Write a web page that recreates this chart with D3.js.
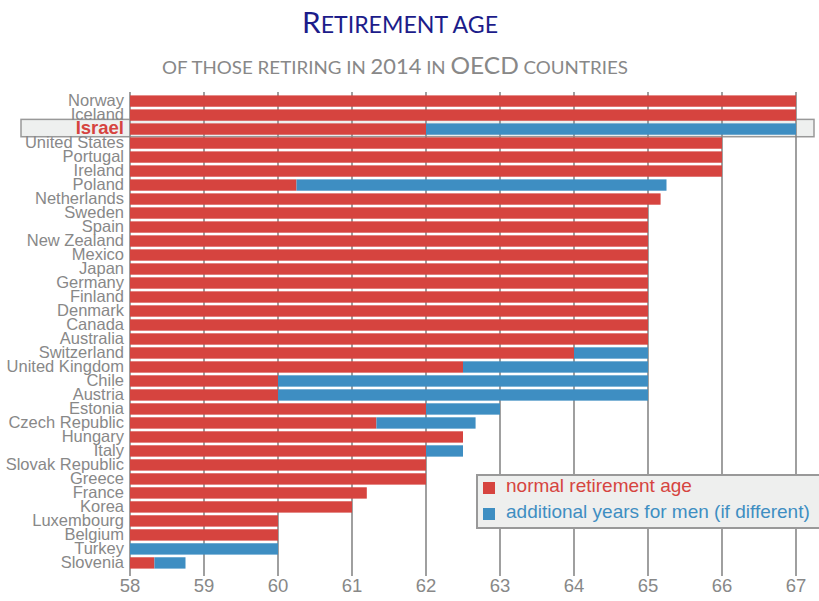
<!DOCTYPE html>
<html>
<head>
<meta charset="utf-8">
<script src="https://cdn.jsdelivr.net/npm/d3@7"></script>
<style>
body { margin: 0; background: #fff; }
svg { display: block; }
</style>
</head>
<body>
<svg id="chart" width="819" height="601"></svg>
<script>
// countries, top to bottom
var countries = ["Norway", "Iceland", "Israel", "United States", "Portugal", "Ireland", "Poland", "Netherlands", "Sweden", "Spain", "New Zealand", "Mexico", "Japan", "Germany", "Finland", "Denmark", "Canada", "Australia", "Switzerland", "United Kingdom", "Chile", "Austria", "Estonia", "Czech Republic", "Hungary", "Italy", "Slovak Republic", "Greece", "France", "Korea", "Luxembourg", "Belgium", "Turkey", "Slovenia"];
// normal retirement age (women where different)
var normalAge = [67, 67, 62, 66, 66, 66, 60.25, 65.17, 65, 65, 65, 65, 65, 65, 65, 65, 65, 65, 64, 62.5, 60, 60, 62, 61.33, 62.5, 62, 62, 62, 61.2, 61, 60, 60, 58, 58.33];
// retirement age for men
var menAge = [67, 67, 67, 66, 66, 66, 65.25, 65.17, 65, 65, 65, 65, 65, 65, 65, 65, 65, 65, 65, 65, 65, 65, 63, 62.67, 62.5, 62.5, 62, 62, 61.2, 61, 60, 60, 60, 58.75];
var ticks = [58, 59, 60, 61, 62, 63, 64, 65, 66, 67];
var highlight = "Israel";
var legendLabels = ["normal retirement age", "additional years for men (if different)"];

var red = "#d6443f", blue = "#3e8ec2", grey = "#888888";
var svg = d3.select("#chart");

var x = d3.scaleLinear().domain([58, 67]).range([130, 796]);
var y = d3.scaleBand().domain(countries).range([94, 570]).paddingInner(0.19).paddingOuter(0.1);

// title
var title = svg.append("text").attr("x", 400).attr("y", 33).attr("text-anchor", "middle")
	.attr("fill", "#1c1c8a").attr("font-family", "Lato, 'Open Sans', sans-serif");
title.append("tspan").attr("font-size", 29).text("R");
title.append("tspan").attr("font-size", 22.5).text("ETIREMENT AGE");
title.attr("textLength", 196).attr("lengthAdjust", "spacingAndGlyphs");

var sub = svg.append("text").attr("x", 395).attr("y", 74).attr("text-anchor", "middle")
	.attr("fill", grey).attr("font-family", "Lato, 'Open Sans', sans-serif");
[["OF THOSE RETIRING IN ", 18], ["2014", 21], [" IN ", 18], ["OECD", 23.5], [" COUNTRIES", 18]].forEach(function (p) {
	sub.append("tspan").attr("font-size", p[1]).text(p[0]);
});
sub.attr("textLength", 466).attr("lengthAdjust", "spacingAndGlyphs");

// highlight box behind the Israel row
svg.append("rect").attr("x", 21).attr("y", y(highlight) - 4).attr("width", 793).attr("height", y.bandwidth() + 6)
	.attr("fill", "#eef0ef").attr("stroke", "#999").attr("stroke-width", 1.5);

// grid
svg.append("g").selectAll("line").data(ticks).join("line")
	.attr("x1", function (d) { return x(d); }).attr("x2", function (d) { return x(d); })
	.attr("y1", 92).attr("y2", 576)
	.attr("stroke", grey).attr("stroke-width", 1.6);

// bars
var rows = svg.append("g").selectAll("g").data(countries).join("g")
	.attr("transform", function (d) { return "translate(0," + y(d) + ")"; });
rows.append("rect")
	.attr("x", x(58)).attr("height", y.bandwidth())
	.attr("width", function (d, i) { return x(normalAge[i]) - x(58); })
	.attr("fill", red);
rows.filter(function (d, i) { return menAge[i] > normalAge[i]; }).append("rect")
	.attr("x", function (d) { return x(normalAge[countries.indexOf(d)]); })
	.attr("height", y.bandwidth())
	.attr("width", function (d) { var i = countries.indexOf(d); return x(menAge[i]) - x(normalAge[i]); })
	.attr("fill", blue);

// country labels
rows.append("text")
	.attr("x", 124).attr("y", y.bandwidth() / 2 + 5)
	.attr("text-anchor", "end")
	.attr("font-family", "'Liberation Sans', Arial, sans-serif")
	.attr("font-size", function (d) { return d == highlight ? 18.5 : 16.5; })
	.attr("font-weight", function (d) { return d == highlight ? "bold" : "normal"; })
	.attr("fill", function (d) { return d == highlight ? red : grey; })
	.text(function (d) { return d; });

// x axis labels
svg.append("g").selectAll("text").data(ticks).join("text")
	.attr("x", function (d) { return x(d); }).attr("y", 592)
	.attr("text-anchor", "middle")
	.attr("font-family", "'Liberation Sans', Arial, sans-serif")
	.attr("font-size", 18.5).attr("fill", grey)
	.text(function (d) { return d; });

// legend
var legend = svg.append("g");
legend.append("rect").attr("x", 477).attr("y", 475).attr("width", 350).attr("height", 53)
	.attr("fill", "#eeefee").attr("stroke", "#999").attr("stroke-width", 2);
legend.selectAll("g").data(legendLabels).join("g")
	.attr("transform", function (d, i) { return "translate(483," + (482 + i * 26) + ")"; })
	.each(function (d, i) {
		var g = d3.select(this), c = i == 0 ? red : blue;
		g.append("rect").attr("width", 12).attr("height", 12).attr("fill", c);
		g.append("text").attr("x", 23).attr("y", 10).attr("fill", c)
			.attr("font-family", "'Liberation Sans', Arial, sans-serif").attr("font-size", 19).text(d);
	});
</script>
</body>
</html>
